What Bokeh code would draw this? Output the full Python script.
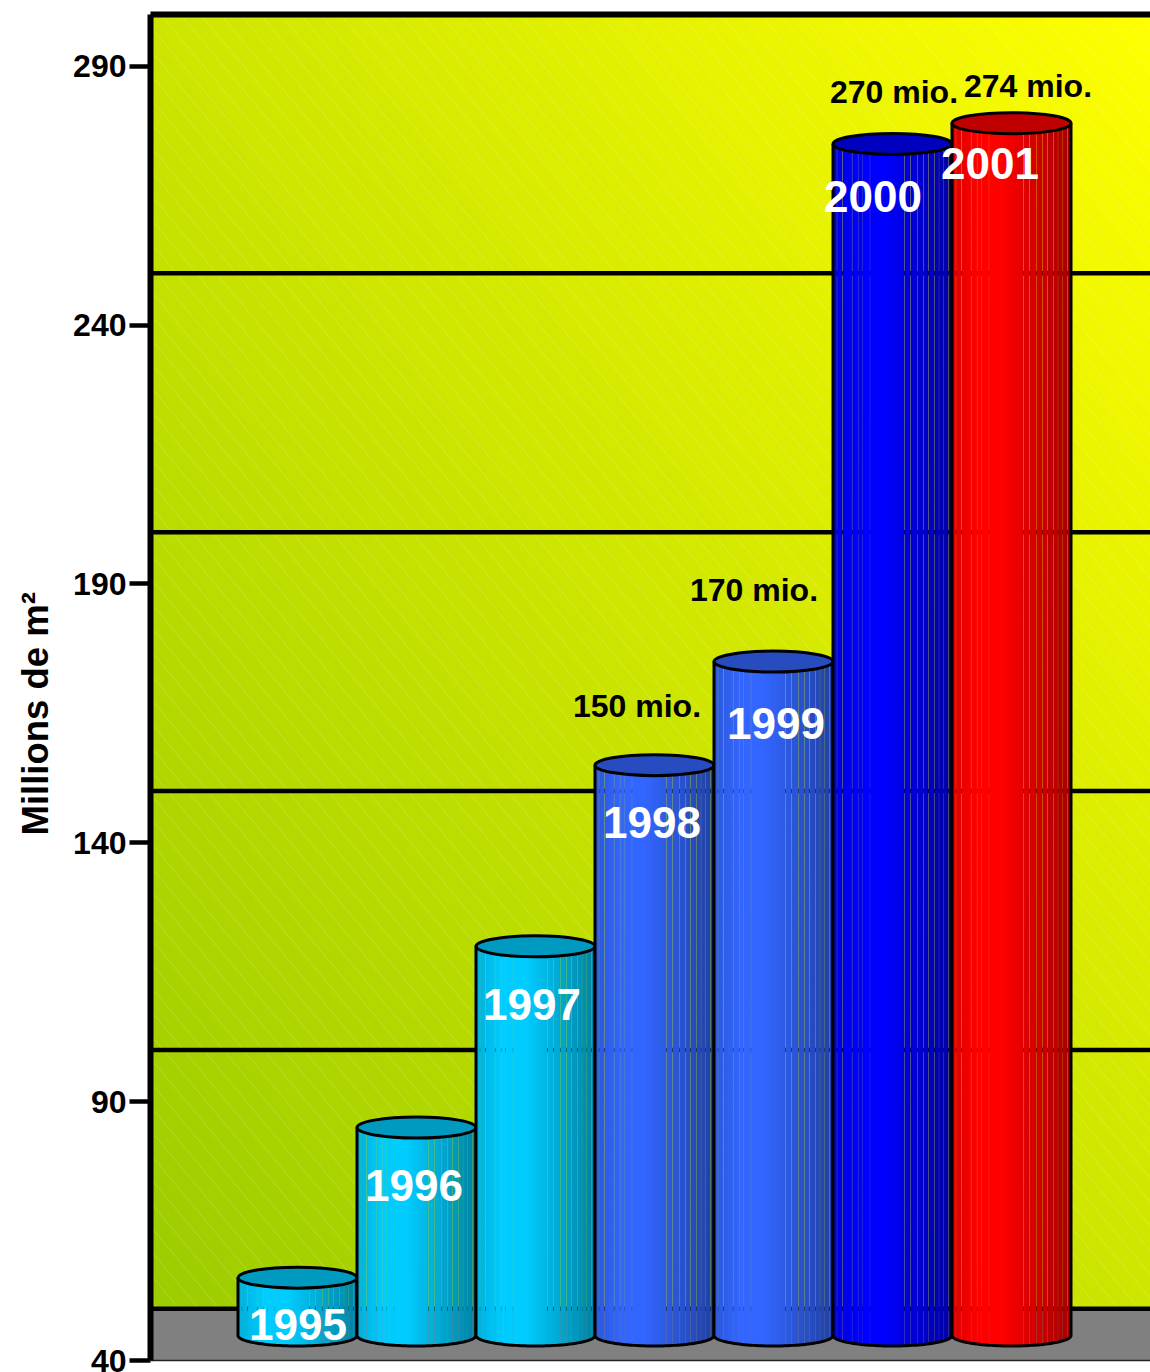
import math
import numpy as np
from bokeh.plotting import figure
from bokeh.models import FixedTicker, LinearAxis, Title, Range1d
from bokeh.core.properties import value
from bokeh.embed import file_html
from bokeh.resources import INLINE

# ---- data ----
years = ["1995", "1996", "1997", "1998", "1999", "2000", "2001"]
areas = [51, 80, 115, 150, 170, 270, 274]
bar_colors = ["#00ccff", "#00ccff", "#00ccff", "#3366ff", "#3366ff", "#0000ff", "#ff0000"]
value_labels = ["150 mio.", "170 mio.", "270 mio.", "274 mio."]
value_label_years = ["1998", "1999", "2000", "2001"]
y_ticks = [40, 90, 140, 190, 240, 290]
wall_lines = [50, 100, 150, 200, 250]
y_title = "Millions de m²"

# ---- geometry helpers (pixels of the page -> data, for decoration and hand-placed text) ----
FONT = "Liberation Sans"
Y0, Y1 = 40, 300
FRAME_T, FRAME_B = 14, 1360
FRAME_L, FRAME_R = 150, 1150
BAR_PX, BAR_L = 119, 237.5
Y_SCALE = (FRAME_B - FRAME_T) / (Y1 - Y0)


def dx(px):
    return (px - BAR_L) / BAR_PX


def dy(px):
    return Y0 + (FRAME_B - px) / Y_SCALE


DEPTH = 5.0          # 3D shift of a bar's top above the value axis
BASE = dy(1335)      # centre of the bars' bottom ellipse
ELL_H = 21 / Y_SCALE

p = figure(
    width=1150, height=1372, output_backend="svg", toolbar_location=None,
    x_range=Range1d(dx(FRAME_L), dx(FRAME_R)), y_range=Range1d(Y0, Y1),
    min_border_left=150, min_border_right=0, min_border_top=14, min_border_bottom=12,
    x_axis_location=None, y_axis_location=None, background_fill_color="white",
    border_fill_color="white", outline_line_color=None,
)
p.grid.visible = False

# ---- wall gradient, painted band over band ----
low = np.array([0x9c, 0xcc, 0x00])
high = np.array([0xff, 0xff, 0x00])
FLOOR_PX = 1308
W, H = FRAME_R - FRAME_L, FLOOR_PX - FRAME_T
xs_bands, ys_bands, col_bands = [], [], []
N_BANDS = 128
for k in range(N_BANDS):
    t = k / N_BANDS
    s = 2 * t
    far = 3.0
    poly = [(s + 1, -1), (far, -1), (far, far), (-1, far), (-1, s + 1)]
    xs_bands.append([dx(FRAME_L + u * W) for u, v in poly])
    ys_bands.append([dy(FLOOR_PX - v * H) for u, v in poly])
    c = low + (high - low) * t
    col_bands.append("#%02x%02x%02x" % tuple(int(round(a)) for a in c))
p.patches(xs_bands, ys_bands, fill_color=col_bands, line_color=None)

# ---- faint hatching of the wall ----
h_x0, h_y0, h_x1, h_y1 = [], [], [], []
for start in range(-1400, 1200, 20):
    h_x0.append(dx(start))
    h_y0.append(dy(FRAME_T))
    h_x1.append(dx(start + (FLOOR_PX - FRAME_T) / 1.2))
    h_y1.append(dy(FLOOR_PX))
p.segment(h_x0, h_y0, h_x1, h_y1, line_color="white", line_alpha=0.18, line_width=1)

# ---- floor and wall lines ----
p.quad(left=[dx(FRAME_L)], right=[dx(FRAME_R)], bottom=[Y0], top=[dy(FLOOR_PX)],
       fill_color="#808080", line_color=None)
p.segment([dx(FRAME_L)] * len(wall_lines), wall_lines, [dx(FRAME_R)] * len(wall_lines), wall_lines,
          line_color="black", line_width=4.5)

# ---- cylinders ----
seams = [.033, .078, .16, .21, .25, .31, .60, .65, .71, .76, .80, .85, .89, .93, .97]
GAP = 0.35 / BAR_PX
STEP = 1.5 / BAR_PX


def shade(t):
    if t < 0.22:
        return 0.86 + 0.14 * t / 0.22
    if t < 0.42:
        return 1.0
    return 1.0 - 0.36 * (t - 0.42) / 0.58


def mix(hexcol, f):
    rgb = [int(hexcol[i:i + 2], 16) for i in (1, 3, 5)]
    return "#%02x%02x%02x" % tuple(int(round(a * f)) for a in rgb)


for i, (val, col) in enumerate(zip(areas, bar_colors)):
    top_y = val + DEPTH
    edges = [0.0] + seams + [1.0]
    L, R, B, C = [], [], [], []
    for a, b in zip(edges[:-1], edges[1:]):
        t = a + GAP / 2
        end = b - GAP / 2
        while t < end:
            mid = t + STEP / 2
            L.append(i + t)
            R.append(i + min(t + 2 * STEP, end))
            rel = 2 * min(max(mid, 0), 1) - 1
            B.append(BASE - ELL_H / 2 * math.sqrt(max(0.0, 1 - rel * rel)))
            C.append(mix(col, shade(mid)))
            t += STEP
    p.quad(left=L, right=R, bottom=B, top=[top_y] * len(L), fill_color=C, line_color=None)
    th = np.linspace(math.pi, 2 * math.pi, 60)
    ox = [float(i)] + list(i + 0.5 + 0.5 * np.cos(th)) + [i + 1.0]
    oy = [top_y] + list(BASE + ELL_H / 2 * np.sin(th)) + [top_y]
    p.line(ox, oy, line_color="black", line_width=3, line_join="round")
    p.ellipse(x=[i + 0.5], y=[top_y], width=[1.0], height=[ELL_H],
              fill_color=mix(col, 0.75), line_color="black", line_width=3)

# ---- bar texts ----
year_text_px = {"1995": (297.5, 1324), "1996": (413.5, 1185), "1997": (531.5, 1004), "1998": (651.5, 822),
                "1999": (775.5, 723), "2000": (872.5, 196), "2001": (989.5, 163)}
p.text([dx(year_text_px[y][0]) for y in years], [dy(year_text_px[y][1]) for y in years], text=years,
       text_color="white", text_font=value(FONT), text_font_style="bold", text_font_size="44px",
       text_align="center", text_baseline="middle")

value_text_px = {"1998": (636.5, 705), "1999": (753.5, 589), "2000": (893.5, 91), "2001": (1027.5, 85)}
p.text([dx(value_text_px[y][0]) for y in value_label_years],
       [dy(value_text_px[y][1]) for y in value_label_years], text=value_labels,
       text_color="black", text_font=value(FONT), text_font_style="bold", text_font_size="32px",
       text_align="center", text_baseline="middle")

# ---- axes ----
left = LinearAxis(ticker=FixedTicker(ticks=y_ticks))
left.axis_line_width = 6
left.axis_line_color = "black"
left.major_tick_line_width = 4.5
left.major_tick_line_color = "black"
left.major_tick_in = 0
left.major_tick_out = 21
left.minor_tick_line_color = None
left.major_label_standoff = 3
left.major_label_text_font = FONT
left.major_label_text_font_style = "bold"
left.major_label_text_font_size = "32px"
left.major_label_text_color = "black"
p.add_layout(left, "left")

top = LinearAxis(ticker=FixedTicker(ticks=[]))
top.axis_line_width = 6
top.axis_line_color = "black"
top.major_tick_line_color = None
top.minor_tick_line_color = None
top.major_label_standoff = 0
top.major_label_text_font_size = "0px"
p.add_layout(top, "above")

bottom = LinearAxis(ticker=FixedTicker(ticks=[]))
bottom.axis_line_width = 1.5
bottom.axis_line_color = "#222222"
bottom.major_tick_line_color = None
bottom.minor_tick_line_color = None
bottom.major_label_standoff = 0
bottom.major_label_text_font_size = "0px"
p.add_layout(bottom, "below")

p.add_layout(Title(text=y_title, align="left", vertical_align="top", offset=525, standoff=26,
                   text_font=FONT, text_font_style="bold",
                   text_font_size="36.5px", text_color="black"), "left")

open("out.html", "w").write(file_html(p, INLINE))
